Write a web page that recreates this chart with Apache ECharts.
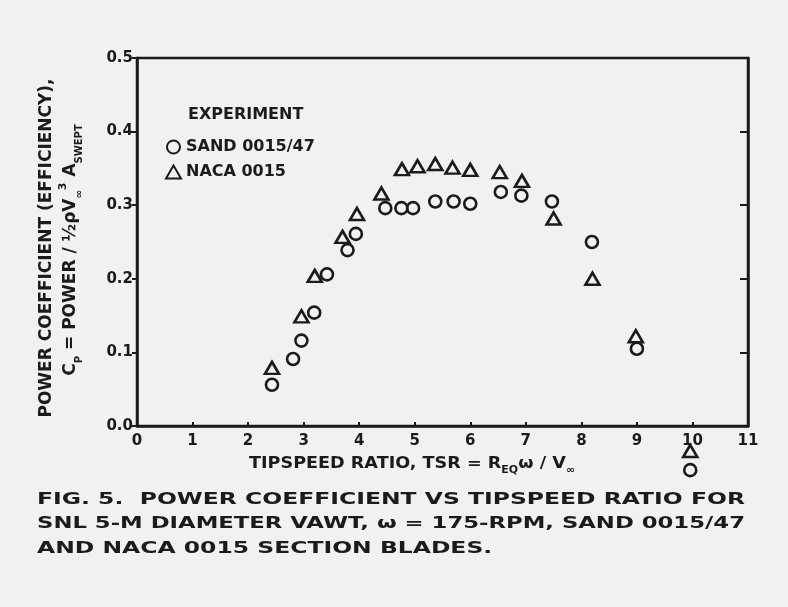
<!DOCTYPE html>
<html>
<head>
<meta charset="utf-8">
<script src="https://cdn.jsdelivr.net/npm/echarts@6/dist/echarts.min.js"></script>
<style>
  html, body { margin: 0; padding: 0; background: #f1f1ef; }
  #chart { width: 788px; height: 607px; }
</style>
</head>
<body>
<div id="chart"></div>
<script>
// Axis ticks
const tsrTicks = [0, 1, 2, 3, 4, 5, 6, 7, 8, 9, 10, 11];
const cpTicks = [0.0, 0.1, 0.2, 0.3, 0.4, 0.5];

// Experiment: SAND 0015/47 blades (circles)
const sandTsr = [2.43, 2.81, 2.96, 3.19, 3.42, 3.79, 3.94, 4.47, 4.76, 4.97, 5.37, 5.70, 6.00, 6.55, 6.92, 7.47, 8.19, 9.00, 9.96];
const sandCp  = [0.056, 0.091, 0.116, 0.154, 0.206, 0.239, 0.261, 0.296, 0.296, 0.296, 0.305, 0.305, 0.302, 0.318, 0.313, 0.305, 0.250, 0.105, -0.060];

// Experiment: NACA 0015 blades (triangles)
const nacaTsr = [2.43, 2.96, 3.20, 3.70, 3.96, 4.40, 4.77, 5.05, 5.37, 5.68, 6.00, 6.53, 6.93, 7.50, 8.20, 8.98, 9.96];
const nacaCp  = [0.079, 0.149, 0.204, 0.257, 0.288, 0.316, 0.349, 0.353, 0.356, 0.351, 0.348, 0.345, 0.333, 0.282, 0.200, 0.122, -0.034];

const seriesNames = ['SAND 0015/47', 'NACA 0015'];
const legendTitle = 'EXPERIMENT';
const captionLines = [
  'FIG. 5.  POWER COEFFICIENT VS TIPSPEED RATIO FOR',
  'SNL 5-M DIAMETER VAWT, \u03c9 = 175-RPM, SAND 0015/47',
  'AND NACA 0015 SECTION BLADES.'
];

const INK = '#1b1b1b';
const FONT = '"DejaVu Sans", "Liberation Sans", sans-serif';

const pairs = (xs, ys) => xs.map((x, i) => [x, ys[i]]);

// Caption glyphs are stretched horizontally so the two full lines span the text block
const measureCtx = document.createElement('canvas').getContext('2d');
const captionSize = 15;
measureCtx.font = 'bold ' + captionSize + 'px "DejaVu Sans"';
const blockWidth = 708;
const lineScale = [
  blockWidth / measureCtx.measureText(captionLines[0]).width,
  blockWidth / measureCtx.measureText(captionLines[1]).width
];
lineScale.push(lineScale[0]);

const chart = echarts.init(document.getElementById('chart'), null, { renderer: 'canvas' });

const boldText = (extra) => Object.assign({
  fontFamily: FONT, fontWeight: 'bold', fill: INK
}, extra);

const markerStyle = { color: 'rgba(0,0,0,0)', borderColor: INK, borderWidth: 2.6, opacity: 1 };

chart.setOption({
  animation: false,
  backgroundColor: '#f1f1ef',
  grid: {
    left: 137, right: 40, top: 58, bottom: 181,
    show: true, borderColor: INK, borderWidth: 2.5, backgroundColor: 'transparent'
  },
  legend: {
    orient: 'vertical',
    left: 160, top: 134,
    itemWidth: 15, itemHeight: 13, itemGap: 9,
    selectedMode: false,
    itemStyle: { opacity: 1 },
    textStyle: { fontFamily: FONT, fontWeight: 'bold', fontSize: 16, color: INK },
    data: seriesNames
  },
  xAxis: {
    type: 'value', min: tsrTicks[0], max: tsrTicks[tsrTicks.length - 1], interval: 1,
    axisLine: { lineStyle: { color: INK, width: 2.5 } },
    axisTick: { inside: true, length: 4, lineStyle: { color: INK, width: 2 } },
    axisLabel: { fontFamily: FONT, fontWeight: 'bold', fontSize: 15, color: INK, margin: 8 },
    splitLine: { show: false }
  },
  yAxis: [{
    type: 'value', min: cpTicks[0], max: cpTicks[cpTicks.length - 1], interval: 0.1,
    axisLine: { show: true, lineStyle: { color: INK, width: 2.5 } },
    axisTick: { show: true, inside: false, length: 5, lineStyle: { color: INK, width: 2 } },
    axisLabel: {
      fontFamily: FONT, fontWeight: 'bold', fontSize: 15, color: INK, margin: 4,
      formatter: v => v.toFixed(1)
    },
    splitLine: { show: false }
  }, {
    type: 'value', position: 'right', min: cpTicks[0], max: cpTicks[cpTicks.length - 1], interval: 0.1,
    axisLine: { show: true, lineStyle: { color: INK, width: 2.5 } },
    axisTick: { show: true, inside: true, length: 8, lineStyle: { color: INK, width: 2 } },
    axisLabel: { show: false },
    splitLine: { show: false }
  }],
  series: [{
    name: seriesNames[0], type: 'scatter', clip: false, silent: true,
    symbol: 'circle', symbolSize: 12,
    itemStyle: markerStyle,
    data: pairs(sandTsr, sandCp)
  }, {
    name: seriesNames[1], type: 'scatter', clip: false, silent: true,
    symbol: 'triangle', symbolSize: [14, 12],
    itemStyle: markerStyle,
    data: pairs(nacaTsr, nacaCp)
  }],
  graphic: [
    // legend heading
    { type: 'text', x: 188, y: 115, silent: true,
      style: boldText({ text: legendTitle, fontSize: 16, align: 'left', verticalAlign: 'middle' }) },
    // y-axis title, two rotated lines
    { type: 'text', x: 47, y: 248, rotation: Math.PI / 2, silent: true,
      style: boldText({ text: 'POWER COEFFICIENT (EFFICIENCY),', fontSize: 17, align: 'center', verticalAlign: 'middle' }) },
    { type: 'text', x: 71, y: 250, rotation: Math.PI / 2, silent: true,
      style: boldText({
        text: '{m|C}{s|P}{m| = POWER / \u00bd\u03c1V}{s|\u221e}{u|3}{m| A}{s|SWEPT}',
        fontSize: 17, align: 'center', verticalAlign: 'middle',
        rich: {
          m: boldText({ fontSize: 17, lineHeight: 26, verticalAlign: 'middle' }),
          s: boldText({ fontSize: 10, lineHeight: 17, verticalAlign: 'bottom' }),
          u: boldText({ fontSize: 11, lineHeight: 14, verticalAlign: 'top' })
        }
      }) },
    // x-axis title
    { type: 'text', x: 412, y: 464, scaleX: 1.1, silent: true,
      style: boldText({
        text: '{m|TIPSPEED RATIO, TSR = R}{s|EQ}{m|\u03c9 / V}{s|\u221e}',
        fontSize: 16, align: 'center', verticalAlign: 'middle',
        rich: {
          m: boldText({ fontSize: 16, lineHeight: 22, verticalAlign: 'middle' }),
          s: boldText({ fontSize: 10, lineHeight: 15, verticalAlign: 'bottom' })
        }
      }) },
    // figure caption
    ...captionLines.map((line, i) => ({
      type: 'text', x: 37, y: 500 + i * 24.5, scaleX: lineScale[i], silent: true,
      style: boldText({ text: line, fontSize: captionSize, align: 'left', verticalAlign: 'middle' })
    }))
  ]
});
</script>
</body>
</html>
